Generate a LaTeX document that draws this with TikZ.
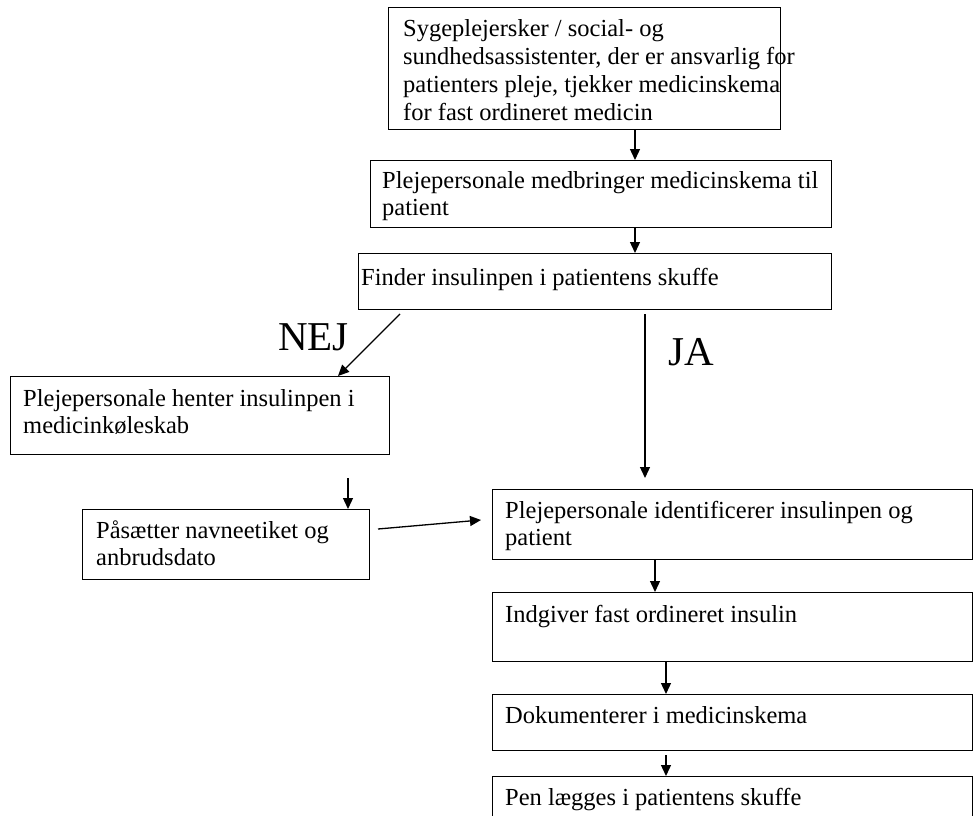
\documentclass[tikz,border=0pt]{standalone}
\usepackage{fontspec}
\setmainfont{Liberation Serif}
\usetikzlibrary{arrows.meta,calc}
\newcommand{\tbx}[1]{\parbox[t]{20cm}{\fontsize{24.5pt}{27.7pt}\selectfont\raggedright #1}}
\tikzset{
  box/.style={draw, line width=1.3pt, rectangle, inner sep=0pt, anchor=north west},
  txt/.style={anchor=base west, inner sep=0pt},
  arr/.style={line width=1.3pt, -{Triangle[length=11pt,width=10pt]}},
  big/.style={inner sep=0pt, anchor=base west, font=\fontsize{41pt}{45pt}\selectfont}
}
\begin{document}
\begin{tikzpicture}[x=1pt,y=-1pt]
\useasboundingbox (0,0) rectangle (974,816);
% boxes
\node[box, minimum width=392, minimum height=122] (b1) at (388,7) {};
\node[box, minimum width=461, minimum height=67] (b2) at (370,160) {};
\node[box, minimum width=473, minimum height=56] (b3) at (358,253) {};
\node[box, minimum width=379, minimum height=78] (b4) at (10,376) {};
\node[box, minimum width=287, minimum height=70] (b5) at (82,509) {};
\node[box, minimum width=480, minimum height=70] (b6) at (492,489) {};
\node[box, minimum width=480, minimum height=69] (b7) at (492,592) {};
\node[box, minimum width=480, minimum height=56] (b8) at (492,694) {};
\node[box, minimum width=480, minimum height=60] (b9) at (492,776) {};
% texts
\node[txt] (t1) at ($(b1.north west)+(15,30)$) {\tbx{Sygeplejersker / social- og\\sundhedsassistenter, der er ansvarlig for\\patienters pleje, tjekker medicinskema\\for fast ordineret medicin}};
\node[txt] (t2) at ($(b2.north west)+(12,28)$) {\tbx{Plejepersonale medbringer medicinskema til\\patient}};
\node[txt] (t3) at ($(b3.north west)+(3,32)$) {\tbx{Finder insulinpen i patientens skuffe}};
\node[txt] (t4) at ($(b4.north west)+(13,30)$) {\tbx{Plejepersonale henter insulinpen i\\medicink\o leskab}};
\node[txt] (t5) at ($(b5.north west)+(14,29)$) {\tbx{P\aa s\ae tter navneetiket og\\anbrudsdato}};
\node[txt] (t6) at ($(b6.north west)+(13,29)$) {\tbx{Plejepersonale identificerer insulinpen og\\patient}};
\node[txt] (t7) at ($(b7.north west)+(13,30)$) {\tbx{Indgiver fast ordineret insulin}};
\node[txt] (t8) at ($(b8.north west)+(13,29)$) {\tbx{Dokumenterer i medicinskema}};
\node[txt] (t9) at ($(b9.north west)+(13,29)$) {\tbx{Pen l\ae gges i patientens skuffe}};
% labels
\node[big] (nej) at (278,350) {NEJ};
\node[big] (ja) at (668,365) {JA};
% free ends
\coordinate (nejS) at (400,314);
\coordinate (jaS) at (645,314);
\coordinate (jaE) at (645,478);
\coordinate (b4S) at (348,478);
\coordinate (b5S) at (378,529);
\coordinate (b6W) at (481,520);
\coordinate (b8S) at (666,755);
% connectors
\draw[arr] (b1.south -| 635,0) -- (b2.north -| 635,0);
\draw[arr] (b2.south -| 635,0) -- (b3.north -| 635,0);
\draw[arr] (nejS) -- (b4.north -| 338,0);
\draw[arr] (jaS) -- (jaE);
\draw[arr] (b4S) -- (b5.north -| 348,0);
\draw[arr] (b5S) -- (b6W);
\draw[arr] (b6.south -| 655,0) -- (b7.north -| 655,0);
\draw[arr] (b7.south -| 666,0) -- (b8.north -| 666,0);
\draw[arr] (b8S) -- (b9.north -| 666,0);
\end{tikzpicture}
\end{document}
